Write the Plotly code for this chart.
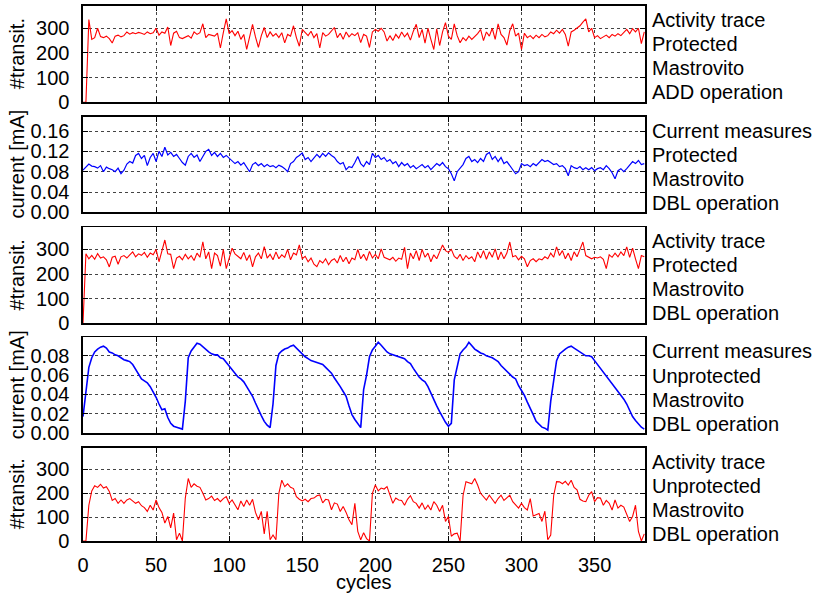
import plotly.graph_objects as go

# ---------------- data (one value every 2 cycles) ----------------
STEP = 2

act_prot_add = [
    0, 0, 335, 255, 262, 300, 266, 262, 268, 258,
    240, 268, 272, 265, 270, 285, 276, 282, 278, 283,
    280, 275, 285, 278, 282, 300, 272, 285, 280, 305,
    230, 280, 288, 262, 258, 265, 270, 260, 285, 275,
    282, 318, 262, 275, 272, 268, 280, 220, 282, 338,
    278, 290, 270, 288, 255, 275, 214, 262, 316, 265,
    223, 270, 303, 262, 285, 268, 278, 262, 282, 241,
    275, 268, 310, 262, 227, 295, 282, 270, 288, 262,
    278, 220, 282, 268, 275, 290, 303, 262, 280, 255,
    285, 265, 278, 270, 282, 242, 275, 268, 222, 285,
    295, 288, 300, 285, 248, 270, 250, 275, 260, 285,
    265, 280, 252, 288, 316, 262, 295, 240, 300, 255,
    214, 298, 230, 285, 323, 268, 255, 318, 270, 241,
    262, 250, 268, 255, 265, 278, 295, 250, 285, 268,
    300, 255, 318, 275, 262, 232, 290, 318, 268, 280,
    214, 280, 262, 270, 258, 272, 262, 275, 265, 270,
    285, 278, 292, 280, 295, 275, 228, 285, 292, 300,
    310, 325, 338, 285, 300, 262, 270, 258, 265, 272,
    262, 275, 268, 278, 270, 282, 295, 278, 298, 285,
    300, 238, 285,
]

cur_prot_dbl = [
    0.083, 0.090, 0.095, 0.091, 0.090, 0.087, 0.092, 0.080, 0.089, 0.086,
    0.084, 0.080, 0.087, 0.076, 0.083, 0.095, 0.100, 0.097, 0.112, 0.116,
    0.106, 0.112, 0.092, 0.108, 0.116, 0.100, 0.120, 0.110, 0.128, 0.113,
    0.118, 0.110, 0.114, 0.106, 0.098, 0.093, 0.110, 0.116, 0.108, 0.113,
    0.100, 0.110, 0.120, 0.124, 0.112, 0.118, 0.110, 0.116, 0.108, 0.112,
    0.106, 0.102, 0.096, 0.100, 0.093, 0.098, 0.090, 0.080, 0.094, 0.098,
    0.092, 0.096, 0.090, 0.094, 0.090, 0.092, 0.088, 0.093, 0.090, 0.086,
    0.080, 0.096, 0.100, 0.108, 0.112, 0.117, 0.104, 0.108, 0.100, 0.106,
    0.114, 0.108, 0.116, 0.110, 0.117, 0.112, 0.108, 0.100, 0.095, 0.098,
    0.084, 0.090, 0.088, 0.098, 0.110, 0.096, 0.090, 0.100, 0.094, 0.116,
    0.108, 0.112, 0.104, 0.108, 0.100, 0.104, 0.096, 0.100, 0.090, 0.098,
    0.092, 0.096, 0.088, 0.092, 0.086, 0.090, 0.094, 0.088, 0.092, 0.084,
    0.090, 0.096, 0.092, 0.098, 0.090, 0.086, 0.076, 0.062, 0.080, 0.088,
    0.094, 0.106, 0.110, 0.100, 0.104, 0.098, 0.106, 0.100, 0.114, 0.118,
    0.104, 0.110, 0.100, 0.108, 0.096, 0.100, 0.092, 0.082, 0.076, 0.080,
    0.096, 0.092, 0.094, 0.090, 0.096, 0.092, 0.098, 0.104, 0.100, 0.102,
    0.098, 0.094, 0.096, 0.090, 0.092, 0.086, 0.072, 0.092, 0.088, 0.086,
    0.090, 0.084, 0.088, 0.084, 0.088, 0.082, 0.086, 0.088, 0.084, 0.092,
    0.086, 0.078, 0.066, 0.082, 0.086, 0.080, 0.086, 0.094, 0.100, 0.096,
    0.102, 0.094, 0.096,
]

act_prot_dbl = [
    0, 282, 262, 276, 260, 283, 265, 270, 258, 229,
    268, 272, 240, 270, 275, 265, 278, 290, 270, 282,
    276, 288, 268, 285, 278, 300, 250, 300, 338, 282,
    280, 222, 265, 272, 258, 280, 262, 275, 255, 285,
    268, 331, 262, 290, 222, 285, 275, 232, 300, 222,
    268, 305, 282, 270, 262, 288, 255, 278, 229, 270,
    285, 262, 311, 265, 280, 258, 290, 262, 278, 268,
    300, 258, 285, 278, 318, 262, 272, 250, 265, 240,
    230, 255, 245, 262, 238, 255, 262, 245, 275, 250,
    268, 242, 265, 258, 300, 262, 280, 255, 292, 265,
    280, 262, 302, 268, 262, 258, 268, 252, 265, 260,
    308, 222, 285, 262, 295, 255, 300, 268, 285, 250,
    278, 262, 290, 318, 295, 288, 300, 272, 262, 280,
    255, 275, 262, 270, 250, 290, 265, 295, 260, 290,
    268, 302, 258, 290, 262, 285, 330, 270, 275, 258,
    272, 262, 230, 255, 262, 250, 262, 258, 270, 262,
    285, 268, 310, 275, 295, 262, 285, 255, 290, 270,
    300, 330, 275, 268, 262, 268, 265, 270, 260, 222,
    278, 268, 285, 270, 290, 275, 310, 268, 305, 262,
    222, 275, 270,
]

cur_unprot_dbl = [
    0.017, 0.045, 0.068, 0.078, 0.084, 0.087, 0.089, 0.090, 0.088, 0.084,
    0.083, 0.081, 0.080, 0.078, 0.076, 0.075, 0.074, 0.071, 0.066, 0.060,
    0.056, 0.054, 0.052, 0.048, 0.043, 0.037, 0.030, 0.024, 0.025, 0.016,
    0.010, 0.007, 0.006, 0.005, 0.004, 0.033, 0.078, 0.085, 0.089, 0.093,
    0.092, 0.089, 0.087, 0.084, 0.082, 0.081, 0.081, 0.078, 0.077, 0.073,
    0.070, 0.065, 0.061, 0.058, 0.056, 0.053, 0.048, 0.043, 0.038, 0.031,
    0.024, 0.018, 0.012, 0.008, 0.0055, 0.030, 0.070, 0.082, 0.085, 0.087,
    0.088, 0.090, 0.091, 0.088, 0.084, 0.081, 0.079, 0.077, 0.075, 0.074,
    0.073, 0.072, 0.071, 0.068, 0.065, 0.062, 0.057, 0.053, 0.048, 0.043,
    0.038, 0.028, 0.019, 0.014, 0.009, 0.0055, 0.045, 0.060, 0.079, 0.086,
    0.090, 0.094, 0.091, 0.087, 0.084, 0.082, 0.081, 0.080, 0.079, 0.078,
    0.077, 0.074, 0.072, 0.067, 0.062, 0.058, 0.055, 0.053, 0.048, 0.041,
    0.034, 0.028, 0.022, 0.016, 0.011, 0.007, 0.010, 0.055, 0.070, 0.082,
    0.086, 0.089, 0.094, 0.090, 0.087, 0.085, 0.083, 0.082, 0.080, 0.079,
    0.078, 0.076, 0.074, 0.070, 0.067, 0.064, 0.060, 0.058, 0.056, 0.049,
    0.044, 0.039, 0.032, 0.026, 0.019, 0.012, 0.009, 0.006, 0.005, 0.003,
    0.033, 0.055, 0.075, 0.082, 0.085, 0.087, 0.089, 0.090, 0.088, 0.086,
    0.084, 0.082, 0.080, 0.080, 0.079, 0.075, 0.071, 0.067, 0.064, 0.059,
    0.055, 0.051, 0.047, 0.043, 0.039, 0.035, 0.030, 0.023, 0.017, 0.013,
    0.009, 0.006, 0.004,
]

act_unprot_dbl = [
    0, 0, 150, 210, 232, 225, 238, 222, 228, 208,
    170, 178, 158, 172, 158, 172, 178, 168, 158, 165,
    148, 140, 124, 150, 130, 172, 140, 120, 75, 103,
    55, 117, 5, 33, 0, 180, 262, 225, 240, 230,
    225, 200, 172, 178, 188, 170, 178, 165, 178, 186,
    158, 172, 150, 131, 168, 145, 172, 150, 175, 120,
    89, 124, 30, 125, 5, 25, 5, 200, 255, 228,
    240, 225, 220, 186, 175, 168, 175, 165, 178, 180,
    190, 193, 160, 175, 172, 131, 160, 155, 124, 145,
    120, 89, 68, 158, 40, 5, 35, 10, 0, 200,
    235, 210, 222, 218, 228, 190, 158, 180, 172, 170,
    150, 175, 190, 165, 158, 138, 160, 132, 150, 130,
    165, 150, 124, 150, 82, 103, 20, 30, 33, 0,
    190, 249, 245, 240, 262, 235, 200, 185, 172, 192,
    175, 158, 178, 192, 170, 180, 192, 165, 150, 138,
    158, 140, 130, 178, 105, 110, 115, 82, 125, 5,
    25, 190, 249, 248, 240, 250, 235, 255, 225, 215,
    175, 168, 165, 192, 207, 165, 182, 180, 150, 170,
    158, 130, 172, 138, 150, 142, 110, 82, 103, 150,
    40, 0, 30,
]

x_ticks = [0, 50, 100, 150, 200, 250, 300, 350]
transit_ticks = [0, 100, 200, 300]
cur_prot_ticks = [0.00, 0.04, 0.08, 0.12, 0.16]
cur_unprot_ticks = [0.00, 0.02, 0.04, 0.06, 0.08]

y_titles = ["#transit.", "current [mA]", "#transit.", "current [mA]", "#transit."]
side_labels = [
    ["Activity trace", "Protected", "Mastrovito", "ADD operation"],
    ["Current measures", "Protected", "Mastrovito", "DBL operation"],
    ["Activity trace", "Protected", "Mastrovito", "DBL operation"],
    ["Current measures", "Unprotected", "Mastrovito", "DBL operation"],
    ["Activity trace", "Unprotected", "Mastrovito", "DBL operation"],
]
x_title = "cycles"

# ---------------- layout constants ----------------
W, H = 819, 593
PL, PR = 83, 645          # plot area left/right pixel
PT, PB = 6, 540.7         # plot area top/bottom pixel
panels_px = [(6, 102.3), (116.7, 212.3), (227.3, 323.3), (337.3, 432.7), (447.3, 540.7)]
y_ranges = [[0, 390], [0, 0.188], [0, 389], [0, 0.099], [0, 392]]
FONT = "Liberation Sans"
FS = 20


def py2paper(py):
    return (PB - py) / (PB - PT)


def px2paper(px):
    return (px - PL) / (PR - PL)


series = [act_prot_add, cur_prot_dbl, act_prot_dbl, cur_unprot_dbl, act_unprot_dbl]
colors = ["#ff0000", "#0000ff", "#ff0000", "#0000ff", "#ff0000"]
widths = [1.1, 1.2, 1.1, 1.6, 1.1]
ytick_sets = [transit_ticks, cur_prot_ticks, transit_ticks, cur_unprot_ticks, transit_ticks]
ytick_fmt = [lambda v: f"{v:d}", lambda v: f"{v:.2f}", lambda v: f"{v:d}",
             lambda v: f"{v:.2f}", lambda v: f"{v:d}"]

fig = go.Figure()
layout = dict(
    width=W, height=H,
    margin=dict(l=PL, r=W - PR, t=PT, b=H - PB, pad=0, autoexpand=False),
    paper_bgcolor="white", plot_bgcolor="white",
    showlegend=False,
    font=dict(family=FONT, size=FS, color="black"),
)
annotations = []

for i, vals in enumerate(series):
    n = i + 1
    sfx = "" if n == 1 else str(n)
    xs = [k * STEP for k in range(len(vals))]
    fig.add_trace(go.Scatter(
        x=xs, y=vals, mode="lines",
        line=dict(color=colors[i], width=widths[i]),
        xaxis="x" + sfx, yaxis="y" + sfx, hoverinfo="skip",
    ))
    top, bot = panels_px[i]
    common = dict(
        ticks="inside", ticklen=5, tickwidth=1, tickcolor="black",
        showgrid=True, gridcolor="#444444", gridwidth=1, griddash="dot",
        showline=True, linecolor="black", linewidth=1.6, mirror="ticks",
        zeroline=False, automargin=False,
        tickfont=dict(family=FONT, size=FS, color="black"),
    )
    layout["xaxis" + sfx] = dict(
        common, domain=[0, 1], range=[0, 384.5], anchor="y" + sfx,
        tickvals=x_ticks, ticktext=[str(v) for v in x_ticks],
        showticklabels=(n == 5), ticklabelstandoff=5,
    )
    layout["yaxis" + sfx] = dict(
        common, domain=[py2paper(bot), py2paper(top)], range=y_ranges[i],
        anchor="x" + sfx,
        tickvals=ytick_sets[i], ticktext=[ytick_fmt[i](v) for v in ytick_sets[i]],
        ticklabelstandoff=8,
    )
    # y-axis title
    annotations.append(dict(
        text=y_titles[i], xref="paper", yref="paper",
        x=px2paper(17), y=py2paper((top + bot) / 2),
        xanchor="center", yanchor="middle", textangle=-90, showarrow=False,
        font=dict(family=FONT, size=FS, color="black"),
    ))
    # right-hand description
    for j, txt in enumerate(side_labels[i]):
        annotations.append(dict(
            text=txt, xref="paper", yref="paper",
            x=px2paper(650), y=py2paper(top + 14 + 24 * j),
            xanchor="left", yanchor="middle", showarrow=False,
            font=dict(family=FONT, size=FS, color="black"),
        ))

annotations.append(dict(
    text=x_title, xref="paper", yref="paper",
    x=0.5, y=py2paper(582), xanchor="center", yanchor="middle", showarrow=False,
    font=dict(family=FONT, size=FS, color="black"),
))
layout["annotations"] = annotations
fig.update_layout(**layout)
fig.write_html(
    "out.html",
    config={"displayModeBar": False, "staticPlot": True},
    post_script="document.body.style.margin='0';document.body.style.padding='0';",
)
